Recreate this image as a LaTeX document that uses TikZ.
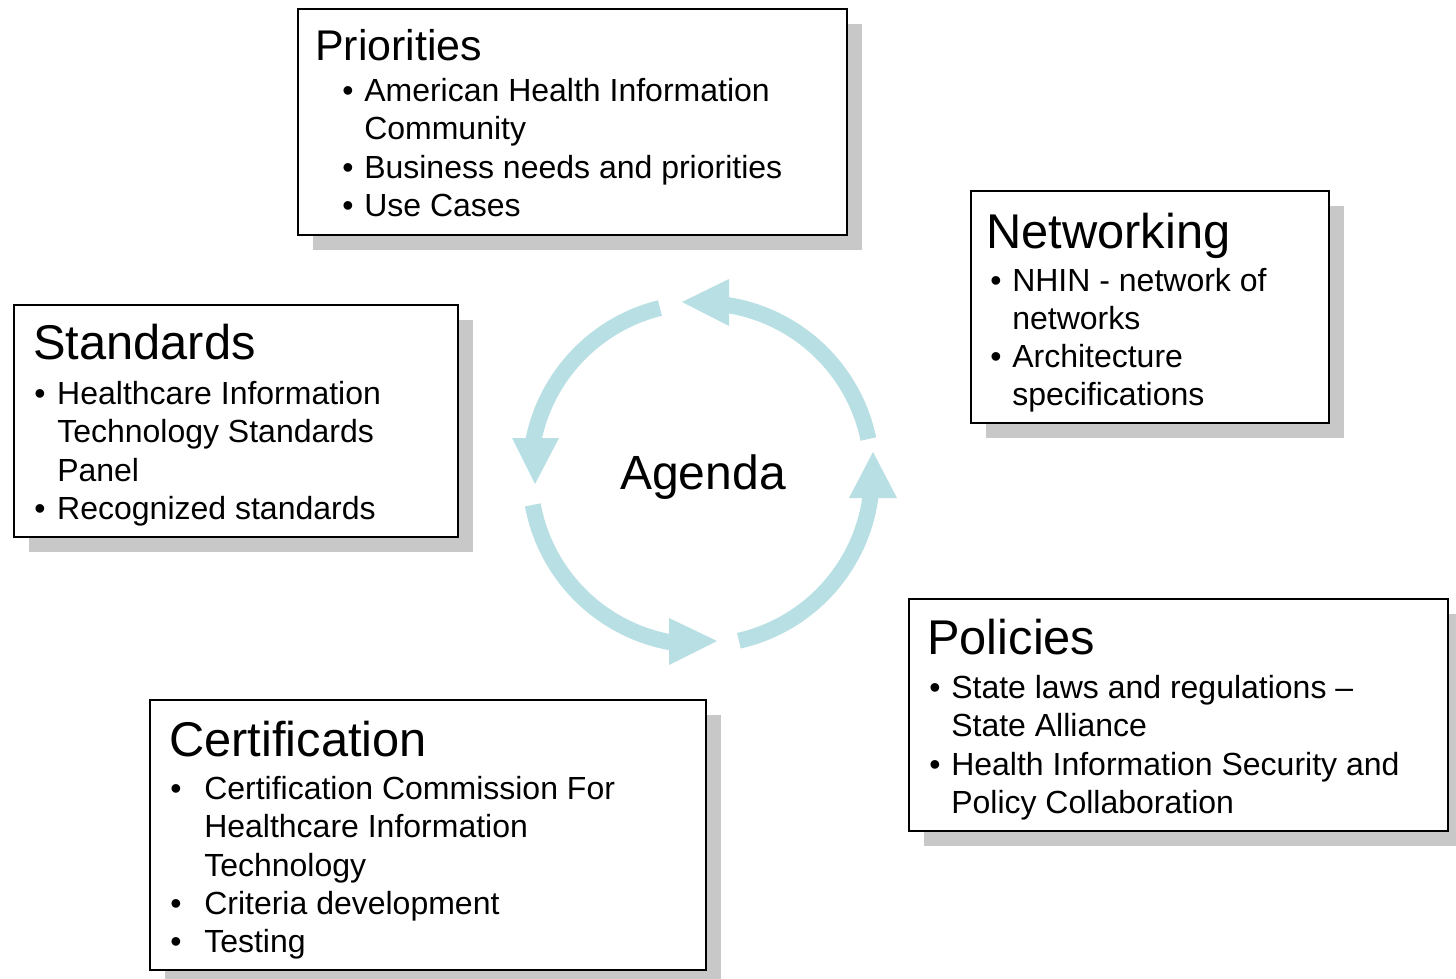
\documentclass[tikz,border=0pt]{standalone}
\usepackage{fontspec}
\setmainfont{Liberation Sans}
\definecolor{cyc}{RGB}{184,223,227}
\definecolor{shd}{RGB}{200,200,200}
\newdimen\px \px=0.75pt
\newcommand\bul[2]{\makebox[#1\px][l]{•}#2}
\newcommand\cont[2]{\hspace*{#1\px}#2}
\tikzset{
  box/.style={draw=black, line width=1.5pt, fill=white, anchor=north west, inner sep=0pt},
  shadowbox/.style={fill=shd, draw=none, anchor=north west, inner sep=0pt},
  ttl/.style={anchor=base west, inner sep=0pt, font=\fontsize{36.6pt}{40pt}\selectfont},
  body/.style={anchor=base west, inner sep=0pt, font=\fontsize{24pt}{28.7pt}\selectfont},
  cycarc/.style={draw=cyc, line width=12pt},
  cychead/.style={fill=cyc}
}
\begin{document}
\begin{tikzpicture}[x=0.75pt, y=-0.75pt]
\useasboundingbox (0,0) rectangle (1456,978);

% Priorities
\node[shadowbox, minimum width=411.75pt, minimum height=169.5pt] (prio-sh) at (313,24) {};
\node[box, minimum width=411.75pt, minimum height=169.5pt] (prio) at (297,8) {};
\node[ttl, font=\fontsize{32.2pt}{36pt}\selectfont] (prio-t) at (315,60) {Priorities};
\node[body] (prio-b) at (342,101.5) {\parbox[t]{600\px}{\bul{22}{American Health Information}\\
\cont{22}{Community}\\
\bul{22}{Business needs and priorities}\\
\bul{22}{Use Cases}}};

% Networking
\node[shadowbox, minimum width=268.5pt, minimum height=174pt] (net-sh) at (986,206) {};
\node[box, minimum width=268.5pt, minimum height=174pt] (net) at (970,190) {};
\node[ttl] (net-t) at (986,248) {Networking};
\node[body] (net-b) at (990,291) {\parbox[t]{600\px}{\bul{22}{NHIN - network of}\\
\cont{22}{networks}\\
\bul{22}{Architecture}\\
\cont{22}{specifications}}};

% Standards
\node[shadowbox, minimum width=333pt, minimum height=174pt] (std-sh) at (29,320) {};
\node[box, minimum width=333pt, minimum height=174pt] (std) at (13,304) {};
\node[ttl] (std-t) at (33,359) {Standards};
\node[body] (std-b) at (34,404.5) {\parbox[t]{600\px}{\bul{23}{Healthcare Information}\\
\cont{23}{Technology Standards}\\
\cont{23}{Panel}\\
\bul{23}{Recognized standards}}};

% Policies
\node[shadowbox, minimum width=404.25pt, minimum height=174pt] (pol-sh) at (924,614) {};
\node[box, minimum width=404.25pt, minimum height=174pt] (pol) at (908,598) {};
\node[ttl] (pol-t) at (927,654) {Policies};
\node[body] (pol-b) at (929,698.5) {\parbox[t]{600\px}{\bul{22}{State laws and regulations –}\\
\cont{22}{State Alliance}\\
\bul{22}{Health Information Security and}\\
\cont{22}{Policy Collaboration}}};

% Certification
\node[shadowbox, minimum width=417pt, minimum height=202.5pt] (cert-sh) at (165,715) {};
\node[box, minimum width=417pt, minimum height=202.5pt] (cert) at (149,699) {};
\node[ttl] (cert-t) at (169,756) {Certification};
\node[body] (cert-b) at (170,799.5) {\parbox[t]{600\px}{\bul{34}{Certification Commission For}\\
\cont{34}{Healthcare Information}\\
\cont{34}{Technology}\\
\bul{34}{Criteria development}\\
\bul{34}{Testing}}};

% Agenda cycle
\node[anchor=base, inner sep=0pt, font=\fontsize{36pt}{40pt}\selectfont] (agenda) at (703,489) {Agenda};
% arrow heads
\coordinate (h1t) at (682,302); \coordinate (h1a) at (729,279); \coordinate (h1b) at (729,326);
\coordinate (h2t) at (535,484); \coordinate (h2a) at (512,438); \coordinate (h2b) at (559,438);
\coordinate (h3t) at (717,641); \coordinate (h3a) at (669,618); \coordinate (h3b) at (669,665);
\coordinate (h4t) at (873,452); \coordinate (h4a) at (849,498); \coordinate (h4b) at (897,498);
\begin{scope}[shift={(701,474)}, x=0.75pt, y=0.75pt]
  \coordinate (c1) at (11.8:171);
  \coordinate (c2) at (103.9:171);
  \coordinate (c3) at (190.4:171);
  \coordinate (c4) at (282.8:171);
  \draw[cycarc] (c1) arc[start angle=11.8, end angle=81.2, radius=171];
  \draw[cycarc] (c2) arc[start angle=103.9, end angle=168.4, radius=171];
  \draw[cycarc] (c3) arc[start angle=190.4, end angle=259.8, radius=171];
  \draw[cycarc] (c4) arc[start angle=282.8, end angle=352.5, radius=171];
\end{scope}
\fill[cychead] (h1t) -- (h1a) -- (h1b) -- cycle;
\fill[cychead] (h2t) -- (h2a) -- (h2b) -- cycle;
\fill[cychead] (h3t) -- (h3a) -- (h3b) -- cycle;
\fill[cychead] (h4t) -- (h4a) -- (h4b) -- cycle;
\end{tikzpicture}
\end{document}
